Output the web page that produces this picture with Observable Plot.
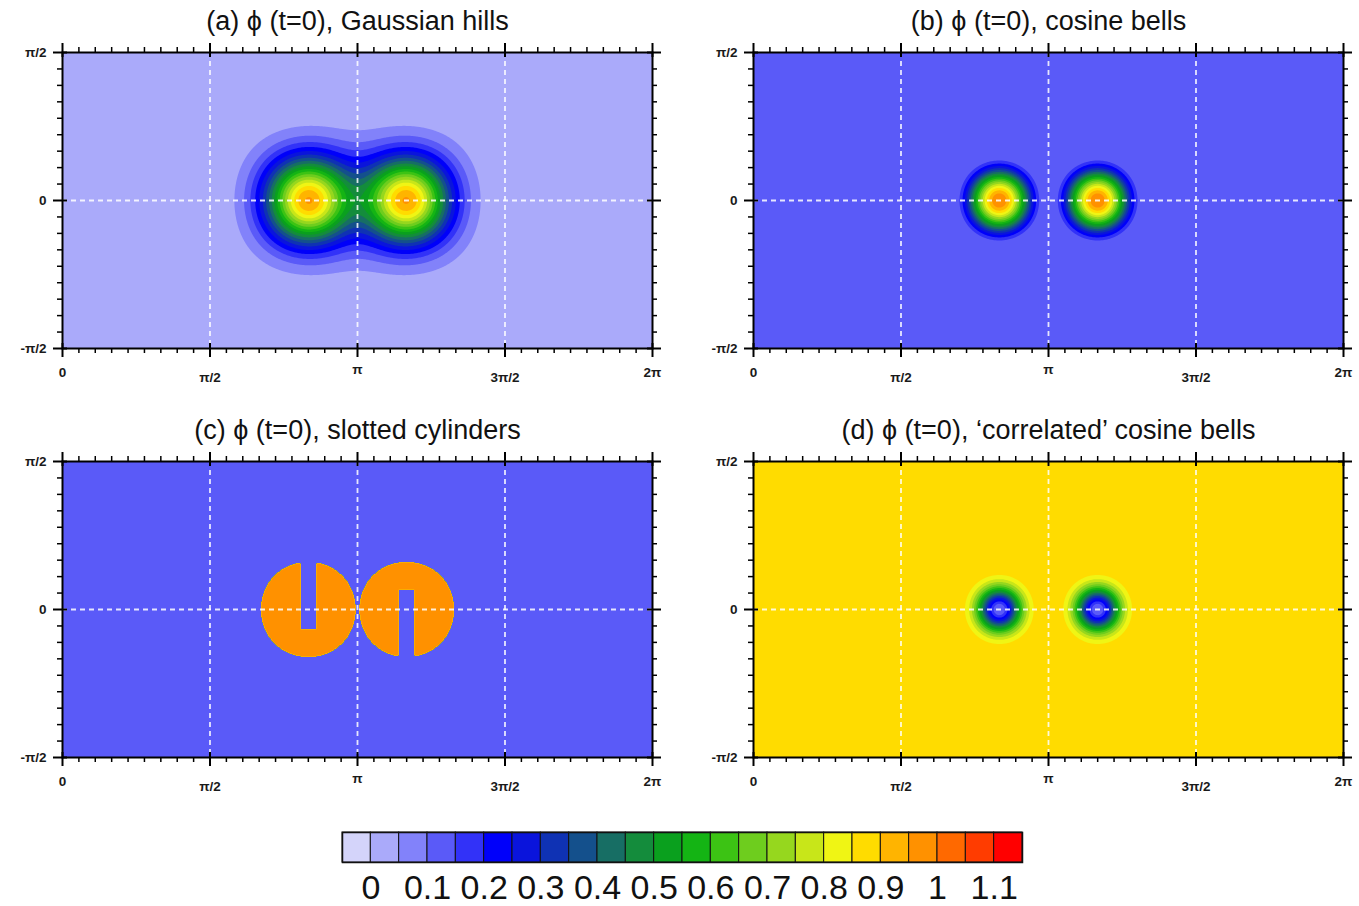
<!DOCTYPE html>
<html>
<head>
<meta charset="utf-8">
<script src="https://cdn.jsdelivr.net/npm/d3@7"></script>
<script src="https://cdn.jsdelivr.net/npm/@observablehq/plot@0.6"></script>
<style>
  html, body { margin: 0; padding: 0; background: #fff; }
  body { width: 1359px; height: 906px; overflow: hidden; position: relative; font-family: "Liberation Sans", Arial, sans-serif; }
  .panel { position: absolute; }
  .panel svg { overflow: visible; }
</style>
</head>
<body>
<div id="pa" class="panel" style="left:0px;top:0px"></div>
<div id="pb" class="panel" style="left:691px;top:0px"></div>
<div id="pc" class="panel" style="left:0px;top:409px"></div>
<div id="pd" class="panel" style="left:691px;top:409px"></div>
<div id="cb" class="panel" style="left:0px;top:812px"></div>
<script>
// ---------------- data ----------------
const PI = Math.PI;
// contour levels (0 to 1.1 by 0.05)
const levels = [0, 0.05, 0.1, 0.15, 0.2, 0.25, 0.3, 0.35, 0.4, 0.45, 0.5, 0.55,
                0.6, 0.65, 0.7, 0.75, 0.8, 0.85, 0.9, 0.95, 1.0, 1.05, 1.1];
// 24 fill colours (below first level ... above last level)
const fillColors = ["#d4d4fa", "#aaaafa", "#8282fa", "#5a5af8", "#3232f8", "#0000fa",
                    "#0a14dc", "#0f32b4", "#14508c", "#176e64", "#148c3c", "#0aa01e",
                    "#14b414", "#3cc314", "#6ecd1e", "#96d71e", "#c8e619", "#f0f514",
                    "#ffdc00", "#ffb400", "#ff9100", "#ff6900", "#ff3c00", "#ff0000"];
const colorbarLabels = [0, 0.1, 0.2, 0.3, 0.4, 0.5, 0.6, 0.7, 0.8, 0.9, 1, 1.1];

const panelTitles = ["(a) \u03D5 (t=0), Gaussian hills",
                     "(b) \u03D5 (t=0), cosine bells",
                     "(c) \u03D5 (t=0), slotted cylinders",
                     "(d) \u03D5 (t=0), \u2018correlated\u2019 cosine bells"];

const xTickValues = [0, PI / 2, PI, 3 * PI / 2, 2 * PI];
const xTickLabels = ["0", "\u03C0/2", "\u03C0", "3\u03C0/2", "2\u03C0"];
const yTickValues = [-PI / 2, 0, PI / 2];
const yTickLabels = ["-\u03C0/2", "0", "\u03C0/2"];
const gridX = [PI / 2, PI, 3 * PI / 2];
const gridY = [0];
const minorStepDeg = 10;

// tracer centres (longitude, latitude)
const centerLon = [5 * PI / 6, 7 * PI / 6];
const centerLat = [0, 0];
// Gaussian hills
const gaussHeight = 0.95, gaussWidth = 5;
// cosine bells
const bellRadius = 0.5, bellMax = 1.0, bellBase = 0.1, bellScale = 0.9;
// slotted cylinders
const cylRadius = 0.5, cylValue = 0.99, cylBase = 0.1;
// correlated cosine bells: a*phi^2 + b
const corrA = -0.8, corrB = 0.9;

// ---------------- fields ----------------
function cosDist(lon, lat, lon0, lat0) {
  const c = Math.sin(lat) * Math.sin(lat0) + Math.cos(lat) * Math.cos(lat0) * Math.cos(lon - lon0);
  return Math.max(-1, Math.min(1, c));
}
function gaussian(lon, lat) {
  let s = 0;
  for (let i = 0; i < centerLon.length; i++) {
    const d2 = 2 * (1 - cosDist(lon, lat, centerLon[i], centerLat[i]));
    s += gaussHeight * Math.exp(-gaussWidth * d2);
  }
  return s;
}
function cosineBells(lon, lat) {
  let s = 0;
  for (let i = 0; i < centerLon.length; i++) {
    const r = Math.acos(cosDist(lon, lat, centerLon[i], centerLat[i]));
    if (r < bellRadius) s += 0.5 * bellMax * (1 + Math.cos(PI * r / bellRadius));
  }
  return bellBase + bellScale * s;
}
function slotted(lon, lat) {
  for (let i = 0; i < centerLon.length; i++) {
    const r = Math.acos(cosDist(lon, lat, centerLon[i], centerLat[i]));
    if (r <= cylRadius) {
      const inSlot = Math.abs(lon - centerLon[i]) < cylRadius / 6;
      if (!inSlot) return cylValue;
      if (i === 0 && lat - centerLat[i] < -5 / 12 * cylRadius) return cylValue;
      if (i === 1 && lat - centerLat[i] > 5 / 12 * cylRadius) return cylValue;
    }
  }
  return cylBase;
}
function correlated(lon, lat) {
  const p = cosineBells(lon, lat);
  return corrA * p * p + corrB;
}

// ---------------- layout ----------------
const FONT = "'Liberation Sans', Arial, Helvetica, sans-serif";
const W = 590, H = 296, ML = 62, MT = 52, MR = 16, MB = 58;
const xMinor = d3.range(0, 361, minorStepDeg).filter(d => d % 90 !== 0).map(d => d * PI / 180);
const yMinor = d3.range(-90, 91, minorStepDeg).filter(d => d % 90 !== 0).map(d => d * PI / 180);
const xIdx = d3.range(xTickValues.length);
const yIdx = d3.range(yTickValues.length);
function xLabelDy(i) {
  const s = xTickLabels[i];
  if (s.includes("/")) return 29;
  if (s === "\u03C0") return 21;
  return 24;
}

function panel(title, field, smooth) {
  const tickStyle = {stroke: "black", strokeWidth: 2};
  const minorStyle = {stroke: "black", strokeWidth: 1.5};
  const labelStyle = {fontSize: 13.5, fontWeight: "bold", fill: "#1a1a1a", lineAnchor: "middle"};
  return Plot.plot({
    width: ML + W + MR, height: MT + H + MB,
    marginLeft: ML, marginRight: MR, marginTop: MT, marginBottom: MB,
    x: {domain: [0, 2 * PI], axis: null},
    y: {domain: [-PI / 2, PI / 2], axis: null},
    color: {type: "threshold", domain: levels, range: fillColors},
    style: {fontFamily: FONT, background: "transparent", overflow: "visible"},
    marks: [
      Plot.contour({fill: field, x1: 0, x2: 2 * PI, y1: -PI / 2, y2: PI / 2,
                    thresholds: levels, pixelSize: 1, smooth, stroke: "none"}),
      Plot.ruleX(gridX, {x: d => d, stroke: "white", strokeOpacity: 0.85, strokeWidth: 1.8, strokeDasharray: "5,4"}),
      Plot.ruleY(gridY, {y: d => d, stroke: "white", strokeOpacity: 0.85, strokeWidth: 1.8, strokeDasharray: "5,4"}),
      Plot.frame({stroke: "black", strokeWidth: 2}),
      // major ticks (crossing the frame)
      Plot.tickX(xTickValues, {x: d => d, insetTop: H - 5, insetBottom: -9, ...tickStyle}),
      Plot.tickX(xTickValues, {x: d => d, insetTop: -9, insetBottom: H - 5, ...tickStyle}),
      Plot.tickY(yTickValues, {y: d => d, insetLeft: -9, insetRight: W - 5, ...tickStyle}),
      Plot.tickY(yTickValues, {y: d => d, insetLeft: W - 5, insetRight: -9, ...tickStyle}),
      // minor ticks (outward)
      Plot.tickX(xMinor, {x: d => d, insetTop: H, insetBottom: -5, ...minorStyle}),
      Plot.tickX(xMinor, {x: d => d, insetTop: -5, insetBottom: H, ...minorStyle}),
      Plot.tickY(yMinor, {y: d => d, insetLeft: -5, insetRight: W, ...minorStyle}),
      Plot.tickY(yMinor, {y: d => d, insetLeft: W, insetRight: -5, ...minorStyle}),
      // tick labels
      Plot.text(yIdx, {y: i => yTickValues[i], text: i => yTickLabels[i], frameAnchor: "left",
                       textAnchor: "end", dx: -16, ...labelStyle}),
      ...[21, 24, 29].map(dy => Plot.text(xIdx.filter(i => xLabelDy(i) === dy),
                       {x: i => xTickValues[i], text: i => xTickLabels[i], frameAnchor: "bottom",
                        dy: dy, ...labelStyle})),
      // title
      Plot.text([title], {text: d => d, frameAnchor: "top", lineAnchor: "middle", dy: -31, fontSize: 27, fill: "#111"})
    ]
  });
}

const fields = [gaussian, cosineBells, slotted, correlated];
const smoothing = [true, true, false, true];
["pa", "pb", "pc", "pd"].forEach((id, k) => {
  document.getElementById(id).appendChild(panel(panelTitles[k], fields[k], smoothing[k]));
});

// ---------------- colour bar ----------------
const step = levels[1] - levels[0];
const boxes = fillColors.map((c, i) => ({
  color: c,
  x1: i === 0 ? levels[0] - step : levels[i - 1],
  x2: i === fillColors.length - 1 ? levels[levels.length - 1] + step : levels[i]
}));
const cbar = Plot.plot({
  width: 1359, height: 94,
  marginLeft: 342, marginRight: 337, marginTop: 20, marginBottom: 44,
  x: {domain: [levels[0] - step, levels[levels.length - 1] + step], axis: null},
  y: {axis: null},
  style: {fontFamily: FONT, background: "transparent", overflow: "visible"},
  marks: [
    Plot.rect(boxes, {x1: "x1", x2: "x2", fill: "color", stroke: "#111", strokeWidth: 1}),
    Plot.frame({stroke: "#111", strokeWidth: 1.5}),
    Plot.text(colorbarLabels, {x: d => d, text: d => String(d), frameAnchor: "bottom", lineAnchor: "middle",
                               dy: 26, fontSize: 34, fill: "#111"})
  ]
});
document.getElementById("cb").appendChild(cbar);
</script>
</body>
</html>
